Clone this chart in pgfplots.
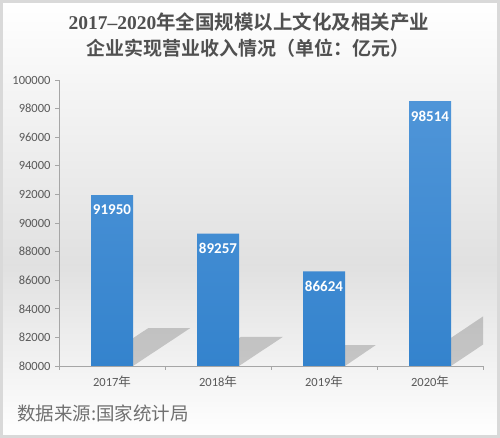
\documentclass[border=0pt]{standalone}
\usepackage{pgfplots}
\pgfplotsset{compat=1.18}
\usepackage{fontspec}
\setmainfont{Carlito}
\newfontfamily\cjk{Noto Sans CJK SC}
\newfontfamily\cjkb{Noto Sans CJK SC Bold}
\newfontfamily\serifb{Liberation Serif}
\definecolor{axgray}{HTML}{A6A6A6}
\definecolor{lblgray}{HTML}{595959}
\definecolor{titlegray}{HTML}{505050}
\definecolor{srcgray}{HTML}{707070}
\definecolor{barTop}{HTML}{4F95D8}
\definecolor{barBot}{HTML}{3483CD}
\begin{document}
\begin{tikzpicture}
\useasboundingbox (0,0) rectangle (500pt,438pt);
% background
\shade[top color=white, bottom color=black!12] (0,173pt) rectangle (500pt,438pt);
\shade[top color=black!12, bottom color=white] (0,0) rectangle (500pt,173pt);
\draw[black!15, line width=3pt] (1.5pt,1.5pt) rectangle (498.5pt,436.5pt);
% title
\node[font=\cjkb\fontsize{19.5}{23}\selectfont, text=titlegray] at (249pt,416pt) {{\serifb\bfseries 2017–2020}年全国规模以上文化及相关产业};
\node[font=\cjkb\fontsize{19}{23}\selectfont, text=titlegray] at (248pt,390pt) {企业实现营业收入情况（单位：亿元）};
% source
\node[font=\cjk\fontsize{18.5}{22}\selectfont, text=srcgray, anchor=west, inner sep=0pt] at (17pt,25pt) {数据来源:国家统计局};
\begin{axis}[
  at={(59pt,72pt)}, anchor=south west,
  scale only axis, width=424pt, height=286pt,
  xmin=-0.5, xmax=3.5, ymin=80000, ymax=100000,
  axis x line*=bottom, axis y line*=left,
  axis line style={axgray, line width=0.8pt},
  xtick={0,1,2,3},
  xticklabels={2017{\cjk 年},2018{\cjk 年},2019{\cjk 年},2020{\cjk 年}},
  minor xtick={-0.5,0.5,1.5,2.5,3.5},
  major x tick style={draw=none},
  minor tick length=4pt, major tick length=4pt,
  tick align=outside,
  tick style={axgray, line width=0.8pt},
  ytick={80000,82000,...,100000},
  scaled y ticks=false,
  /pgf/number format/fixed,
  /pgf/number format/assume math mode=true,
  /pgf/number format/set thousands separator={},
  yticklabel style={font=\fontsize{12.5}{14}\selectfont, text=lblgray, xshift=-1pt},
  xticklabel style={font=\fontsize{12.5}{14}\selectfont, text=lblgray, yshift=-2pt},
  clip=true,
  shadow/.style={draw=none, fill=black, fill opacity=0.18, forget plot},
]
% shadows (decorative)
\addplot[shadow] coordinates {(-0.198,80000) (0.198,80000) (0.738,82650) (0.342,82650) (-0.198,80000)};
\addplot[shadow] coordinates {(0.802,80000) (1.198,80000) (1.613,82040) (1.217,82040) (0.802,80000)};
\addplot[shadow] coordinates {(1.802,80000) (2.198,80000) (2.488,81460) (2.092,81460) (1.802,80000)};
\addplot[shadow] coordinates {(2.802,80000) (3.198,80000) (4.018,84070) (3.622,84070) (2.802,80000)};
\addplot[ybar, bar width=42pt, draw=none, top color=barTop, bottom color=barBot,
  nodes near coords,
  nodes near coords style={font=\bfseries\fontsize{15}{17}\selectfont, text=white, anchor=center, yshift=-15pt},
  point meta=explicit symbolic]
 coordinates {(0,91950)[91950] (1,89257)[89257] (2,86624)[86624] (3,98514)[98514]};
\end{axis}
\end{tikzpicture}
\end{document}
